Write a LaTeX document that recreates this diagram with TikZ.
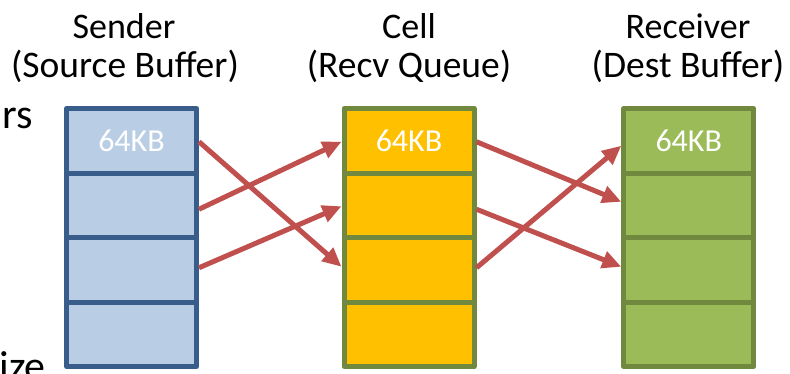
\documentclass[tikz,border=0pt]{standalone}
\usepackage{fontspec}
\setmainfont{Carlito}
\usetikzlibrary{arrows.meta,calc}

\definecolor{srcfill}{HTML}{B9CDE5}
\definecolor{srcline}{HTML}{385D8A}
\definecolor{cellfill}{HTML}{FFC000}
\definecolor{greenline}{HTML}{71893F}
\definecolor{dstfill}{HTML}{9BBB59}
\definecolor{arrowred}{HTML}{C0504D}

\tikzset{
  slot/.style={rectangle, minimum width=130pt, minimum height=64.5pt,
    inner sep=0pt, line width=5pt, line join=round, draw},
  srcslot/.style={slot, fill=srcfill, draw=srcline},
  cellslot/.style={slot, fill=cellfill, draw=greenline},
  dstslot/.style={slot, fill=dstfill, draw=greenline},
  size/.style={text=white, font=\fontsize{32}{36}\selectfont},
  heading/.style={anchor=base, inner sep=0pt, font=\fontsize{36}{39}\selectfont},
  subheading/.style={anchor=base, inner sep=0pt, font=\fontsize{37.5}{40}\selectfont},
  bodytext/.style={anchor=base east, inner sep=0pt, font=\fontsize{42}{48}\selectfont},
  xfer/.style={draw=arrowred, line width=5pt,
    -{Triangle[length=19pt,width=17pt]}}
}

\begin{document}
\begin{tikzpicture}[x=1pt, y=-1pt]
  \useasboundingbox (0,0) rectangle (790,373);
  \clip (0,0) rectangle (790,373);

  % column headings
  \node[heading]    (h1a) at (124,38) {Sender};
  \node[subheading] (h1b) at (125,77) {(Source Buffer)};
  \node[heading]    (h2a) at (409,38) {Cell};
  \node[subheading] (h2b) at (409,77) {(Recv Queue)};
  \node[heading]    (h3a) at (688,38) {Receiver};
  \node[subheading] (h3b) at (688,77) {(Dest Buffer)};

  % fragments of body text at the left edge
  \node[bodytext] (t1) at (33,128) {rs};
  \node[bodytext] (t2) at (46,380) {ize};

  % three columns of four slots each
  \foreach \i/\y in {1/140.75, 2/205.25, 3/269.75, 4/334.25} {
    \node[srcslot]  (s\i) at (131.5,\y) {};
    \node[cellslot] (c\i) at (409,\y) {};
    \node[dstslot]  (r\i) at (688.75,\y) {};
  }
  \node[size] (k1) at (s1) {64KB};
  \node[size] (k2) at (c1) {64KB};
  \node[size] (k3) at (r1) {64KB};

  % sender -> cell
  \draw[xfer] ($(s1.east)+(0,1)$) -- ($(c3.west)+(0,-3)$);
  \draw[xfer] ($(s2.east)+(0,4)$) -- ($(c1.west)+(0,1)$);
  \draw[xfer] ($(s3.east)+(0,-2)$) -- ($(c2.west)+(0,1)$);

  % cell -> receiver
  \draw[xfer] ($(c1.east)+(0,1)$) -- ($(r2.west)+(0,-3.5)$);
  \draw[xfer] ($(c2.east)+(0,4)$) -- ($(r3.west)+(0,-3)$);
  \draw[xfer] ($(c3.east)+(0,-2)$) -- ($(r1.west)+(0,5)$);
\end{tikzpicture}
\end{document}
